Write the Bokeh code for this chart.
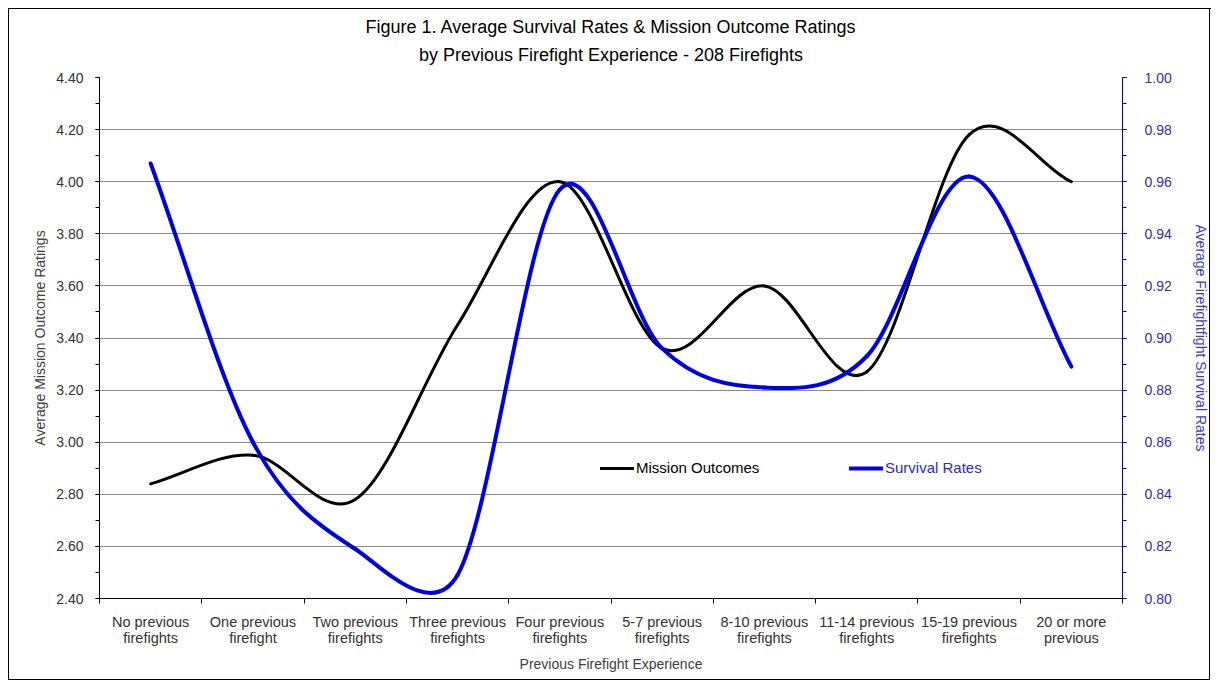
import math
from bokeh.plotting import figure
from bokeh.models import (LinearAxis, Range1d, FixedTicker, Legend, LegendItem,
                          Title, NumeralTickFormatter, ColumnDataSource)
from bokeh.embed import file_html
from bokeh.resources import INLINE

# ---------------- data ----------------
categories = ["No previous\nfirefights", "One previous\nfirefight", "Two previous\nfirefights",
              "Three previous\nfirefights", "Four previous\nfirefights", "5-7 previous\nfirefights",
              "8-10 previous\nfirefights", "11-14 previous\nfirefights", "15-19 previous\nfirefights",
              "20 or more\nprevious"]
mission_outcomes = [2.84, 2.95, 2.78, 3.45, 4.00, 3.36, 3.60, 3.27, 4.18, 4.00]
survival_rates = [0.967, 0.860, 0.819, 0.809, 0.957, 0.896, 0.881, 0.893, 0.962, 0.889]
left_ticks = [2.40, 2.60, 2.80, 3.00, 3.20, 3.40, 3.60, 3.80, 4.00, 4.20, 4.40]
right_ticks = [0.80, 0.82, 0.84, 0.86, 0.88, 0.90, 0.92, 0.94, 0.96, 0.98, 1.00]

FONT = "Liberation Sans"
W, H = 1211, 680
ML, MR, MT, MB = 99, 85, 77, 82
FW, FH = W - ML - MR, H - MT - MB

n = len(categories)
xs = [i + 0.5 for i in range(n)]


def excel_smooth(x, y, sx, sy):
    """Excel-like smoothed-line bezier control points (computed in screen space)."""
    P = [(a * sx, b * sy) for a, b in zip(x, y)]
    m = len(P)
    out = {k: [] for k in ("x0", "y0", "x1", "y1", "cx0", "cy0", "cx1", "cy1")}
    d = lambda a, b: math.hypot(a[0] - b[0], a[1] - b[1])
    for i in range(m - 1):
        p1, p2 = P[i], P[i + 1]
        p0 = P[i - 1] if i > 0 else p1
        p3 = P[i + 2] if i + 2 < m else p2
        d02, d12, d13 = d(p0, p2), d(p1, p2), d(p1, p3)
        ok1 = d02 / 6 < d12 / 2
        ok2 = d13 / 6 < d12 / 2
        if ok1 and ok2:
            f1 = 1 / 6 if p0 != p1 else 1 / 3
            f2 = 1 / 6 if p2 != p3 else 1 / 3
        elif not ok1 and not ok2:
            f1 = d12 / 2 / d02
            f2 = d12 / 2 / d13
        elif not ok1:
            f1 = d12 / 2 / d02
            f2 = d12 / 2 / d02
        else:
            f1 = d12 / 2 / d13
            f2 = d12 / 2 / d13
        b1 = (p1[0] + (p2[0] - p0[0]) * f1, p1[1] + (p2[1] - p0[1]) * f1)
        b2 = (p2[0] - (p3[0] - p1[0]) * f2, p2[1] - (p3[1] - p1[1]) * f2)
        out["x0"].append(p1[0] / sx); out["y0"].append(p1[1] / sy)
        out["x1"].append(p2[0] / sx); out["y1"].append(p2[1] / sy)
        out["cx0"].append(b1[0] / sx); out["cy0"].append(b1[1] / sy)
        out["cx1"].append(b2[0] / sx); out["cy1"].append(b2[1] / sy)
    return out


p = figure(width=W, height=H, x_range=Range1d(0, n), y_range=Range1d(left_ticks[0], left_ticks[-1]),
           output_backend="svg", toolbar_location=None,
           min_border_left=ML, min_border_right=MR, min_border_top=MT, min_border_bottom=MB)
p.extra_y_ranges = {"surv": Range1d(right_ticks[0], right_ticks[-1])}
p.outline_line_color = None
p.background_fill_color = "white"
p.border_fill_alpha = 0
# thin black picture frame: 8px in from left/top, near the right/bottom edges
p.styles = {"background-color": "white",
            "box-shadow": ("inset 8px 8px 0 0 #ffffff, inset 9px 9px 0 0 #000000, "
                           "inset -1px 0 0 0 #ffffff, inset -2px -1px 0 0 #000000")}

# titles
t2 = Title(text="by Previous Firefight Experience - 208 Firefights", align="center",
           text_font=FONT, text_font_size="18px", text_font_style="normal", text_color="black",
           standoff=25)
t1 = Title(text="Figure 1. Average Survival Rates & Mission Outcome Ratings", align="center",
           text_font=FONT, text_font_size="18px", text_font_style="normal", text_color="black",
           standoff=-12)
p.add_layout(t2, "above")
p.add_layout(t1, "above")

# grid
p.xgrid.grid_line_color = None
p.ygrid.ticker = FixedTicker(ticks=left_ticks)
p.ygrid.grid_line_color = "#8a8a8a"
p.ygrid.grid_line_width = 1

# left axis
ya = p.yaxis[0]
ya.ticker = FixedTicker(ticks=left_ticks,
                        minor_ticks=[round(left_ticks[0] + 0.1 * k, 2) for k in range(21)])
ya.formatter = NumeralTickFormatter(format="0.00")
ya.axis_label = "Average Mission Outcome Ratings"
ya.axis_label_text_font = FONT
ya.axis_label_text_font_size = "14px"
ya.axis_label_text_font_style = "normal"
ya.axis_label_text_color = "#404040"
ya.axis_label_standoff = 5
ya.major_label_text_font = FONT
ya.major_label_text_font_size = "14px"
ya.major_label_text_color = "#333333"
ya.major_label_standoff = 12
ya.axis_line_color = "black"
ya.major_tick_line_color = "black"
ya.minor_tick_line_color = "black"
ya.major_tick_in = 0
ya.major_tick_out = 4
ya.minor_tick_in = 0
ya.minor_tick_out = 4

# right axis
ra = LinearAxis(y_range_name="surv")
ra.ticker = FixedTicker(ticks=right_ticks,
                        minor_ticks=[round(right_ticks[0] + 0.01 * k, 3) for k in range(21)])
ra.formatter = NumeralTickFormatter(format="0.00")
ra.axis_label = "Average Firefightfight Survival Rates"
ra.axis_label_text_font = FONT
ra.axis_label_text_font_size = "14px"
ra.axis_label_text_font_style = "normal"
ra.axis_label_text_color = "#3b3bd0"
ra.axis_label_standoff = 18
ra.major_label_text_font = FONT
ra.major_label_text_font_size = "14px"
ra.major_label_text_color = "#3030b0"
ra.major_label_standoff = 18
ra.axis_line_color = "#0000cc"
ra.major_tick_line_color = "#0000cc"
ra.minor_tick_line_color = "#0000cc"
ra.major_tick_in = 0
ra.major_tick_out = 4
ra.minor_tick_in = 0
ra.minor_tick_out = 4
p.add_layout(ra, "right")

# x axis
xa = p.xaxis[0]
xa.ticker = FixedTicker(ticks=xs, minor_ticks=list(range(n + 1)))
xa.major_label_overrides = {x: c for x, c in zip(xs, categories)}
xa.major_tick_line_color = None
xa.minor_tick_line_color = "black"
xa.minor_tick_in = 0
xa.minor_tick_out = 5
xa.axis_line_color = "black"
xa.major_label_text_font = FONT
xa.major_label_text_font_size = "14.5px"
xa.major_label_text_color = "#333333"
xa.major_label_standoff = 9
xa.major_label_text_line_height = 1.05
xa.axis_label = "Previous Firefight Experience"
xa.axis_label_text_font = FONT
xa.axis_label_text_font_size = "14px"
xa.axis_label_text_font_style = "normal"
xa.axis_label_text_color = "#404040"
xa.axis_label_standoff = 7

# curves
sx = FW / n
sy_left = FH / (left_ticks[-1] - left_ticks[0])
sy_right = FH / (right_ticks[-1] - right_ticks[0])
bm = excel_smooth(xs, mission_outcomes, sx, sy_left)
bs = excel_smooth(xs, survival_rates, sx, sy_right)

rm = p.bezier(source=ColumnDataSource(bm), x0="x0", y0="y0", x1="x1", y1="y1",
              cx0="cx0", cy0="cy0", cx1="cx1", cy1="cy1",
              line_color="black", line_width=3, line_cap="round")
rs = p.bezier(source=ColumnDataSource(bs), x0="x0", y0="y0", x1="x1", y1="y1",
              cx0="cx0", cy0="cy0", cx1="cx1", cy1="cy1",
              line_color="#0000e6", line_width=4, line_cap="round", y_range_name="surv")

for r, lab, col, loc in [(rm, "Mission Outcomes", "black", (501, 122)),
                          (rs, "Survival Rates", "#2a2ad0", (750, 122))]:
    lg = Legend(items=[LegendItem(label=lab, renderers=[r])], location=loc,
                orientation="horizontal", padding=0, margin=0, spacing=0,
                border_line_color=None, background_fill_alpha=0,
                glyph_width=34, glyph_height=16, label_standoff=2,
                label_text_font=FONT, label_text_font_size="15px",
                label_text_color=col)
    p.add_layout(lg, "center")

open("out.html", "w").write(file_html(p, INLINE))
